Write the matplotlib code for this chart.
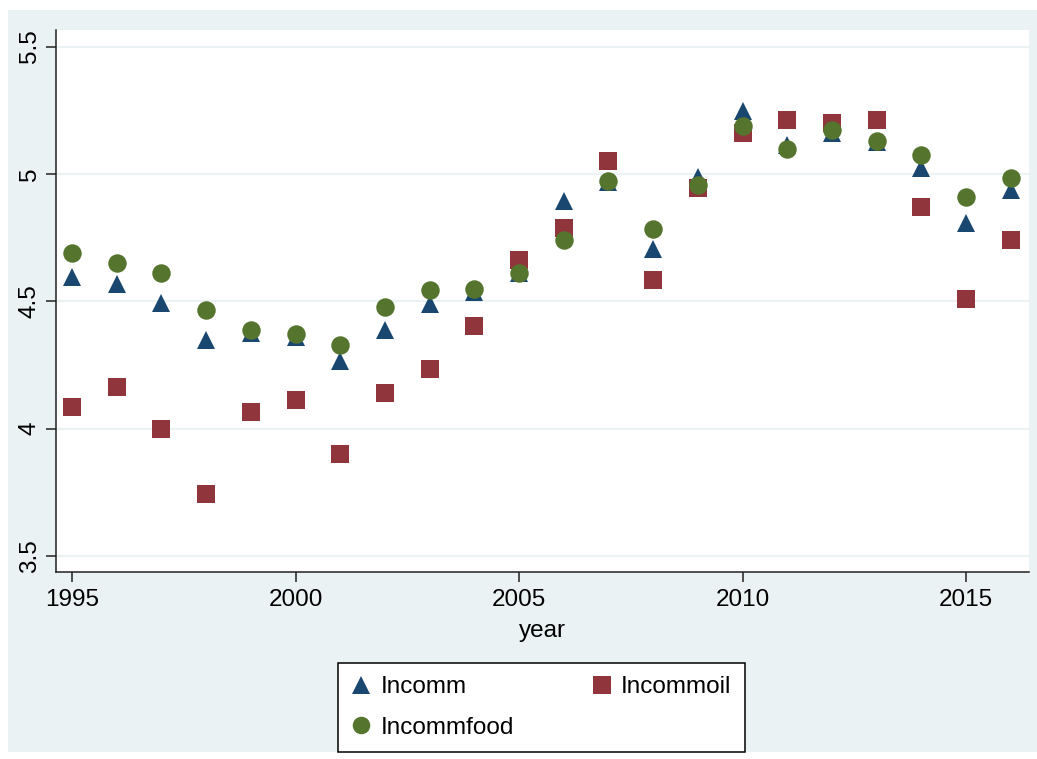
import numpy as np
import matplotlib
matplotlib.use("Agg")
import matplotlib.pyplot as plt
from matplotlib.patches import Rectangle

plt.rcParams['font.family'] = ['Liberation Sans', 'DejaVu Sans']

# yearly series
years = np.arange(1995, 2017)
incomm = [4.594, 4.568, 4.495, 4.348, 4.375, 4.361, 4.266, 4.387, 4.488, 4.535, 4.610,
          4.894, 4.970, 4.706, 4.987, 5.246, 5.114, 5.160, 5.124, 5.022, 4.809, 4.937]
incommoil = [4.084, 4.163, 3.997, 3.743, 4.065, 4.113, 3.899, 4.139, 4.233, 4.403, 4.662,
             4.789, 5.050, 4.584, 4.946, 5.160, 5.212, 5.201, 5.212, 4.872, 4.509, 4.741]
incommfood = [4.691, 4.652, 4.610, 4.466, 4.387, 4.371, 4.329, 4.477, 4.545, 4.550, 4.612,
              4.741, 4.973, 4.783, 4.957, 5.188, 5.098, 5.173, 5.130, 5.073, 4.910, 4.983]

x_ticks = [1995, 2000, 2005, 2010, 2015]
y_ticks = [3.5, 4, 4.5, 5, 5.5]
y_ticklabels = ["3.5", "4", "4.5", "5", "5.5"]

NAVY = "#1a476f"
MAROON = "#90353b"
GREEN = "#55752f"
BG = "#eaf2f3"
FS = 17.5

W, H = 1037, 759
fig = plt.figure(figsize=(W / 100, H / 100), dpi=100)
fig.patch.set_facecolor("white")
# graph region behind the plot
fig.patches.append(Rectangle((8 / W, 1 - 752 / H), 1 - 8 / W, (752 - 10) / H,
                             transform=fig.transFigure, facecolor=BG,
                             edgecolor="none", zorder=-10))

ax = fig.add_axes([56 / W, 1 - 572 / H, (1029 - 56) / W, (572 - 30) / H])
ax.set_facecolor("white")

ax.set_xlim(1994.64, 2016.41)
ax.set_ylim(3.437, 5.565)

for y in y_ticks:
    ax.axhline(y, color=BG, lw=1.6, zorder=1)

ms = 13.3
h1, = ax.plot(years, incomm, ls="none", marker="^", ms=ms, mew=0, color=NAVY, zorder=3)
h2, = ax.plot(years, incommoil, ls="none", marker="s", ms=ms, mew=0, color=MAROON, zorder=4)
h3, = ax.plot(years, incommfood, ls="none", marker="o", ms=ms, mew=0, color=GREEN, zorder=5)

for s in ["top", "right"]:
    ax.spines[s].set_visible(False)
for s in ["left", "bottom"]:
    ax.spines[s].set_color("#222222")
    ax.spines[s].set_linewidth(1.1)

ax.set_xticks(x_ticks)
ax.set_xticklabels([str(t) for t in x_ticks], fontsize=FS)
ax.set_yticks(y_ticks)
ax.set_yticklabels(y_ticklabels, fontsize=FS, rotation=90, va="center")
ax.tick_params(axis="both", direction="out", length=7, width=1.1, color="#222222")
ax.tick_params(axis="x", pad=5)
ax.tick_params(axis="y", pad=4)

ax.set_xlabel("year", fontsize=FS, labelpad=7)

leg = fig.legend([h1, h3, h2], ["Incomm", "Incommfood", "Incommoil"], ncol=2,
                 loc="upper center", bbox_to_anchor=(541.5 / W, 1 - 663 / H),
                 borderaxespad=0, fontsize=FS, frameon=True, fancybox=False,
                 edgecolor="black", facecolor="white", framealpha=1,
                 handlelength=0.8, handletextpad=0.4, columnspacing=3.2,
                 borderpad=0.55, labelspacing=0.75, markerscale=0.95)
leg.get_frame().set_linewidth(1.1)

fig.savefig("out.png", dpi=100)
